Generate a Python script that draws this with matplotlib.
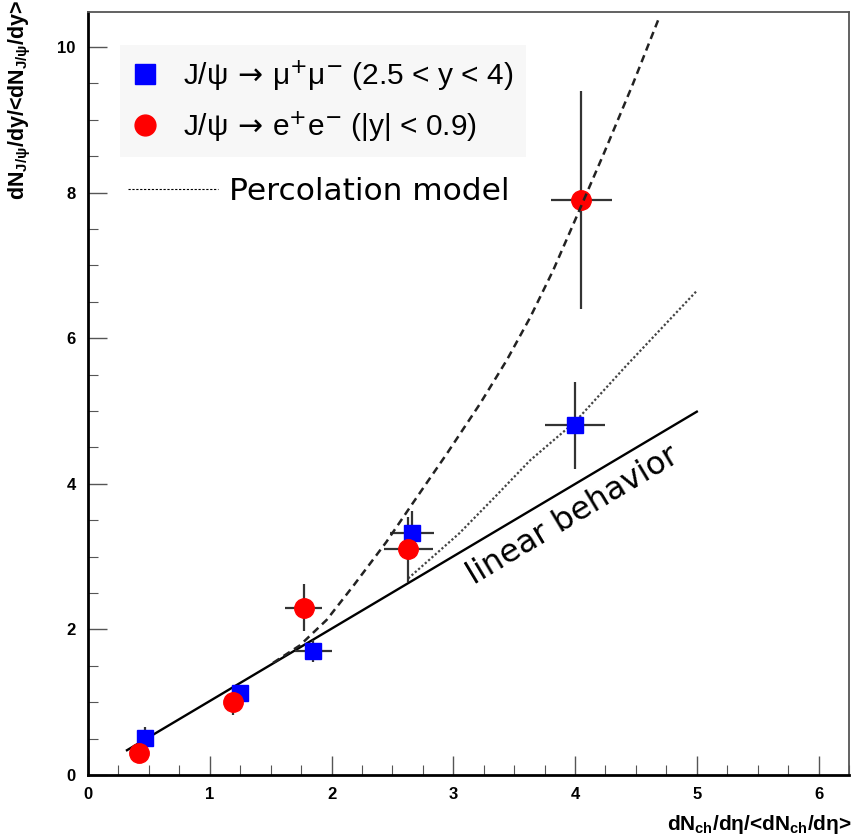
import matplotlib
matplotlib.use("Agg")
import matplotlib.pyplot as plt
from matplotlib.lines import Line2D
from matplotlib.ticker import MultipleLocator

plt.rcParams['mathtext.fontset'] = 'custom'
plt.rcParams['mathtext.rm'] = 'Liberation Sans:bold'
plt.rcParams['mathtext.it'] = 'Liberation Sans:bold'
plt.rcParams['mathtext.bf'] = 'Liberation Sans:bold'
plt.rcParams['mathtext.sf'] = 'DejaVu Sans'
plt.rcParams['mathtext.fallback'] = 'stixsans'

# J/psi -> mu+mu- (forward)
mu_x = [0.47, 1.25, 1.85, 2.66, 4.00]
mu_y = [0.51, 1.12, 1.70, 3.32, 4.80]
mu_xerr = [0.05, 0.06, 0.15, 0.18, 0.25]
mu_yerr = [0.15, 0.10, 0.15, 0.30, 0.60]

# J/psi -> e+e- (mid-rapidity)
ee_x = [0.42, 1.19, 1.77, 2.63, 4.05]
ee_y = [0.30, 1.00, 2.30, 3.10, 7.90]
ee_xerr = [0.05, 0.07, 0.15, 0.20, 0.25]
ee_yerr = [0.14, 0.18, 0.32, 0.45, 1.50]

# curves
lin_x = [0.32, 5.0]
lin_y = [0.34, 4.99]
perc_ee_x = [1.52, 1.74, 1.96, 2.18, 2.45, 2.67, 2.95, 3.22, 3.44, 3.63,
             3.82, 4.00, 4.24, 4.47, 4.69]
perc_ee_y = [1.54, 1.78, 2.13, 2.60, 3.20, 3.74, 4.42, 5.10, 5.70, 6.28,
             6.93, 7.62, 8.55, 9.47, 10.40]
perc_mu_x = [2.63, 3.05, 3.36, 3.63, 4.00, 4.42, 5.00]
perc_mu_y = [2.70, 3.32, 3.85, 4.32, 4.85, 5.62, 6.65]

labels = [r'J/ψ$\,\mathsf{\rightarrow}\,$μ$^{\mathsf{+}}$μ$^{\mathsf{-}}$ (2.5 < y < 4)',
          r'J/ψ$\,\mathsf{\rightarrow}\,$e$^{\mathsf{+}}$e$^{\mathsf{-}}$ (|y| < 0.9)']

fig = plt.figure(figsize=(8.52, 8.36), dpi=100)
ax = fig.add_axes([0.1033, 0.073, 0.8932, 0.9127])

ax.plot(lin_x, lin_y, color='black', lw=1.7, zorder=2)
ax.plot(perc_mu_x, perc_mu_y, color='#444444', lw=1.6, ls=(0, (1, 1)), zorder=2)

ax.errorbar(mu_x, mu_y, xerr=mu_xerr, yerr=mu_yerr, fmt='none',
            ecolor='#333333', elinewidth=1.6, capsize=0, zorder=3)
ax.errorbar(ee_x, ee_y, xerr=ee_xerr, yerr=ee_yerr, fmt='none',
            ecolor='#333333', elinewidth=1.6, capsize=0, zorder=3)
ax.plot(mu_x, mu_y, 's', color='#0000ff', ms=12, mec='#0000ff', zorder=4)
ax.plot(ee_x, ee_y, 'o', color='#ff0000', ms=14, mec='#ff0000', zorder=5)

ax.plot(perc_ee_x, perc_ee_y, color='#222222', lw=1.8, ls=(0, (3, 2)), zorder=6)

ax.set_xlim(0, 6.25)
ax.set_ylim(0, 10.48)
ax.xaxis.set_major_locator(MultipleLocator(1))
ax.xaxis.set_minor_locator(MultipleLocator(0.25))
ax.yaxis.set_major_locator(MultipleLocator(2))
ax.yaxis.set_minor_locator(MultipleLocator(0.5))
ax.tick_params(which='both', direction='in', top=False, right=False,
               color='#555555')
ax.tick_params(which='major', length=14, width=1.0, pad=9)
ax.tick_params(which='minor', length=7, width=0.8)
for lab in ax.get_xticklabels() + ax.get_yticklabels():
    lab.set_family('Liberation Sans')
    lab.set_fontweight('bold')
    lab.set_fontsize(12)
for side in ['left', 'bottom']:
    ax.spines[side].set_linewidth(2.0)
for side in ['top', 'right']:
    ax.spines[side].set_linewidth(1.3)
    ax.spines[side].set_color('#555555')

ax.set_xlabel(r'$dN_{ch}/d\eta/\text{<}dN_{ch}/d\eta\text{>}$', fontsize=15)
ax.xaxis.set_label_coords(1.003, -0.05)
ax.xaxis.label.set_horizontalalignment('right')
ax.set_ylabel(r'$dN_{J/\psi}/dy/\text{<}dN_{J/\psi}/dy\text{>}$', fontsize=15.5)
ax.yaxis.set_label_coords(-0.09, 1.016)
ax.yaxis.label.set_verticalalignment('center')
ax.yaxis.label.set_horizontalalignment('right')

ax.text(3.98, 3.56, 'linear behavior', rotation=31, fontsize=23,
        family='DejaVu Sans', ha='center', va='center', rotation_mode='anchor')

h_mu = Line2D([], [], marker='s', color='#0000ff', ls='none', ms=14)
h_ee = Line2D([], [], marker='o', color='#ff0000', ls='none', ms=15)
leg1 = ax.legend([h_mu, h_ee], labels,
                 loc='upper left', bbox_to_anchor=(0.042, 0.957),
                 borderaxespad=0,
                 prop={'family': ['Liberation Sans', 'DejaVu Sans'], 'size': 21.5},
                 frameon=True, facecolor='#f7f7f7', edgecolor='none',
                 framealpha=1, fancybox=False, handlelength=0.8,
                 handletextpad=0.85, labelspacing=0.55, borderpad=0.45)
ax.add_artist(leg1)

h_perc = Line2D([], [], color='black', lw=0.8, ls=(0, (2, 1.5)))
ax.legend([h_perc], ['Percolation model'], loc='upper left',
          bbox_to_anchor=(0.015, 0.82), frameon=False,
          prop={'family': 'DejaVu Sans', 'size': 22.5},
          handlelength=2.9, handletextpad=0.35)

fig.savefig('out.png', dpi=100)
